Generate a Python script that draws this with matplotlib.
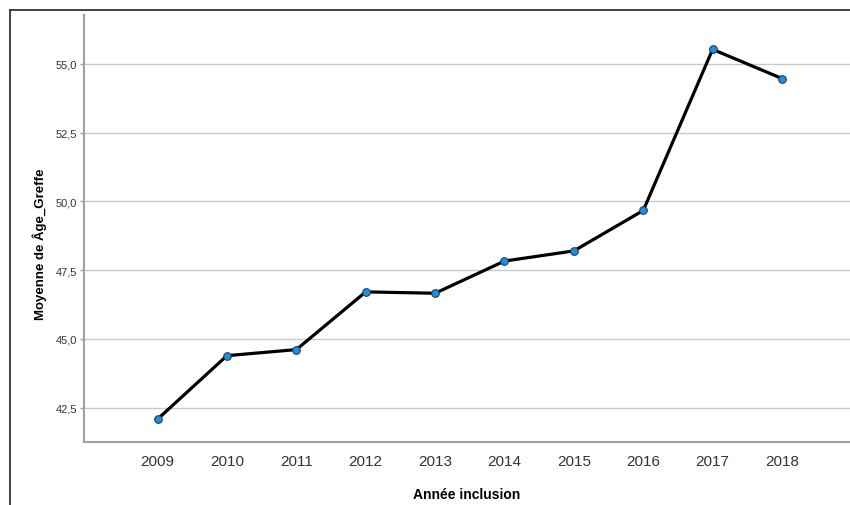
import matplotlib.pyplot as plt
from matplotlib.lines import Line2D
from matplotlib.ticker import FuncFormatter

# data
years = ["2009", "2010", "2011", "2012", "2013", "2014", "2015", "2016", "2017", "2018"]
mean_age = [42.08, 44.39, 44.61, 46.71, 46.66, 47.83, 48.20, 49.67, 55.53, 54.47]
y_ticks = [42.5, 45.0, 47.5, 50.0, 52.5, 55.0]

plt.rcParams["font.family"] = ["Liberation Sans", "DejaVu Sans"]

fig = plt.figure(figsize=(8.5, 5.06), dpi=100)
ax = fig.add_axes([84 / 850, 63 / 506, 1 - 84 / 850, 427 / 506])

x = list(range(len(years)))
ax.plot(
    x, mean_age, color="black", linewidth=2.3, zorder=3,
    marker="o", markersize=5.5, markerfacecolor="#1e8fe0",
    markeredgecolor="#1b3f66", markeredgewidth=0.8
)

ax.set_xlim(-1.06, 9.98)
ax.set_ylim(41.25, 56.78)
ax.set_xticks(x)
ax.set_xticklabels(years)
ax.set_yticks(y_ticks)
ax.yaxis.set_major_formatter(FuncFormatter(lambda v, _: f"{v:.1f}".replace(".", ",")))

ax.grid(axis="y", color="#c8c8c8", linewidth=1.0)
ax.set_axisbelow(True)

for side in ("top", "right"):
    ax.spines[side].set_visible(False)
for side in ("left", "bottom"):
    ax.spines[side].set_color("#a0a0a0")
    ax.spines[side].set_linewidth(1.5)

ax.tick_params(axis="x", length=0, pad=9, labelsize=11, labelcolor="#333333")
ax.tick_params(axis="y", length=3, width=1, color="#a0a0a0", pad=2,
               labelsize=8, labelcolor="#333333")

ax.set_xlabel("Année inclusion", fontsize=10, fontweight="bold", labelpad=13)
ax.set_ylabel("Moyenne de Âge_Greffe", fontsize=9.5, fontweight="bold", labelpad=7)
ax.yaxis.set_label_coords(-37 / 84 * (84 / 766), 0.466)

# outer frame (top and left edges visible)
fig.add_artist(Line2D([9.5 / 850, 1], [1 - 11 / 506] * 2, color="#222222",
                      linewidth=1.2, transform=fig.transFigure))
fig.add_artist(Line2D([9.5 / 850] * 2, [0, 1 - 11 / 506], color="#222222",
                      linewidth=1.2, transform=fig.transFigure))

fig.savefig("out.png", dpi=100)
